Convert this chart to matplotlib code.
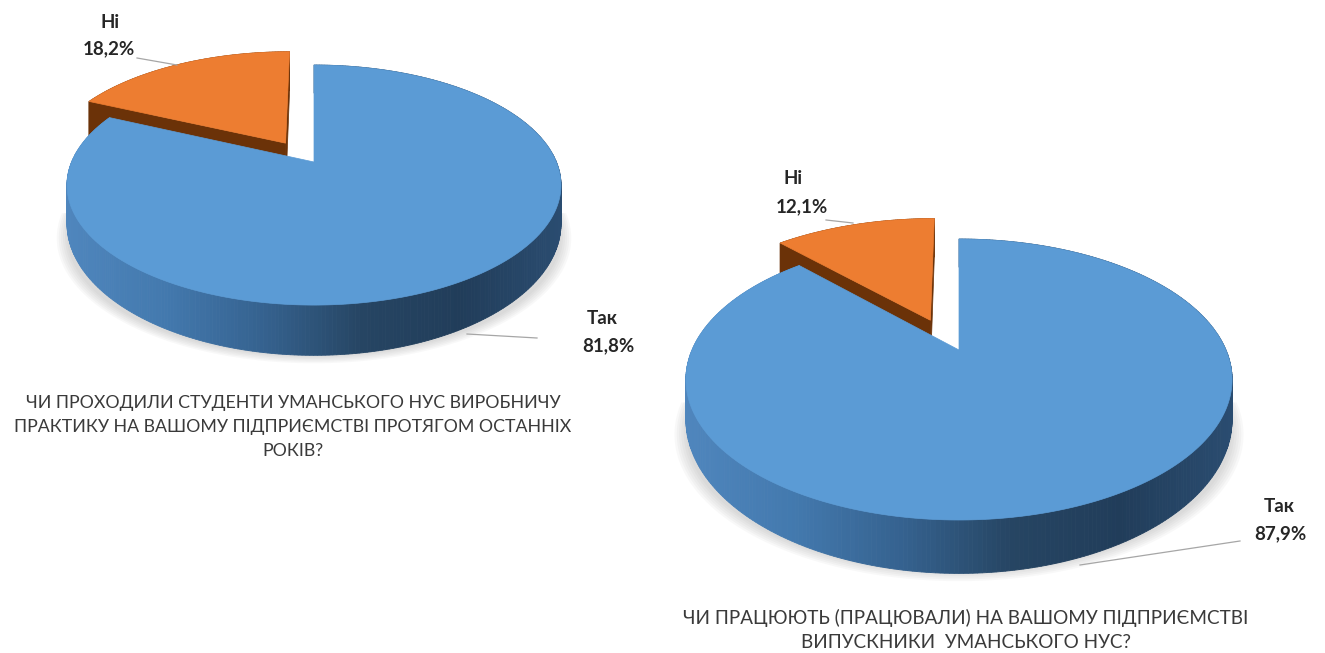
import numpy as np
import matplotlib
matplotlib.use("Agg")
from matplotlib import pyplot as plt
from matplotlib.colors import LinearSegmentedColormap

# дані
labels = ["Так", "Ні"]
values_1 = [81.8, 18.2]
values_2 = [87.9, 12.1]
title_1 = "ЧИ ПРОХОДИЛИ СТУДЕНТИ УМАНСЬКОГО НУС ВИРОБНИЧУ\nПРАКТИКУ НА ВАШОМУ ПІДПРИЄМСТВІ ПРОТЯГОМ ОСТАННІХ\nРОКІВ?"
title_2 = "ЧИ ПРАЦЮЮТЬ (ПРАЦЮВАЛИ) НА ВАШОМУ ПІДПРИЄМСТВІ\nВИПУСКНИКИ  УМАНСЬКОГО НУС?"

plt.rcParams["font.family"] = ["Lato", "DejaVu Sans"]

fig = plt.figure(figsize=(13.25, 6.53), dpi=100)
ax = fig.add_axes([0, 0, 1, 1])
ax.set_xlim(0, 1325)
ax.set_ylim(653, 0)
ax.axis("off")

side_cmap = LinearSegmentedColormap.from_list(
    "side", ["#4f86bd", "#4379ae", "#35628f", "#264563", "#213d5a", "#2a4c70"])


def draw_pie(values, cx, cy, a, b, k, depth, explode, shift):
    """пиріг у перспективі: (cx, cy) - вершина синього сектора"""
    def project(x, y):
        den = 1 + k * y
        return cx + a * x / den, cy - b * y / den

    def wall(x, y):
        return depth / (1 + k * y) ** 1.5

    span = values[1] / sum(values) * 2 * np.pi

    # тінь (лише передня половина)
    t = np.linspace(np.pi / 2, 3 * np.pi / 2, 120)
    for s in np.linspace(1.04, 1.0, 6):
        sx, sy = project(s * np.sin(t), s * np.cos(t))
        ax.fill(sx, sy + depth * 1.4, color="#808080", alpha=0.05, lw=0, zorder=1)

    # помаранчевий сектор (винесений назад)
    mid = span / 2
    ox, oy = -explode * np.sin(mid), explode * np.cos(mid)
    t = np.linspace(0, -span, 80)
    x = np.r_[0, np.sin(t)] + ox
    y = np.r_[0, np.cos(t)] + oy
    px, py = project(x, y)
    px = px - shift
    dy = wall(x, y) * 1.45
    # стінка
    for i in range(len(x) - 1):
        ax.fill([px[i], px[i + 1], px[i + 1], px[i]],
                [py[i], py[i + 1], py[i + 1] + dy[i + 1], py[i] + dy[i]],
                color="#6b3208", lw=0.5, zorder=2)
    ax.fill([px[-1], px[0], px[0], px[-1]],
            [py[-1], py[0], py[0] + dy[0], py[-1] + dy[-1]],
            color="#6b3208", lw=0.5, zorder=2)
    ax.fill(px, py, color="#ED7D31", lw=0.5, zorder=3)

    # синій сектор
    t = np.linspace(0, 2 * np.pi - span, 400)
    x, y = np.sin(t), np.cos(t)
    px, py = project(x, y)
    dy = wall(x, y)
    left, right = px.min(), px.max()
    for i in range(len(x) - 1):
        c = side_cmap((px[i] - left) / (right - left))
        ax.fill([px[i], px[i + 1], px[i + 1], px[i]],
                [py[i], py[i + 1], py[i + 1] + dy[i + 1], py[i] + dy[i]],
                color=c, lw=0.6, zorder=4)
    top_x, top_y = project(np.r_[0, x], np.r_[0, y])
    ax.fill(top_x, top_y, color="#5B9BD5", lw=0.5, zorder=5)


draw_pie(values_1, 314, 162, 242.4, 115.6, 0.192, 36.5, 0.2, 3)
draw_pie(values_2, 959, 350, 267, 134.3, 0.21, 37.5, 0.25, 5)


def pct(v):
    return f"{v:.1f}%".replace(".", ",")


txt = dict(fontsize=13.5, fontweight="bold", color="#262626", ha="center", va="center", zorder=8)
ax.text(110, 22, labels[1], **txt)
ax.text(109, 49, pct(values_1[1]), **txt)
ax.text(602, 318, labels[0], **txt)
ax.text(608, 346, pct(values_1[0]), **txt)
ax.text(793, 179, labels[1], **txt)
ax.text(802, 207, pct(values_2[1]), **txt)
ax.text(1279, 506, labels[0], **txt)
ax.text(1280, 534, pct(values_2[0]), **txt)

# лінії-виноски
for lx, ly in [([137, 177], [58, 65]), ([467, 537], [334, 338]),
               ([826, 853], [220, 223]), ([1080, 1240], [565, 541])]:
    ax.plot(lx, ly, color="#a6a6a6", lw=0.9, zorder=8)

ax.text(293, 427, title_1, fontsize=12.8, color="#3a3a3a", ha="center", va="center", linespacing=1.62)
ax.text(966, 630, title_2, fontsize=13.6, color="#3a3a3a", ha="center", va="center", linespacing=1.55)

fig.savefig("out.png", dpi=100)
